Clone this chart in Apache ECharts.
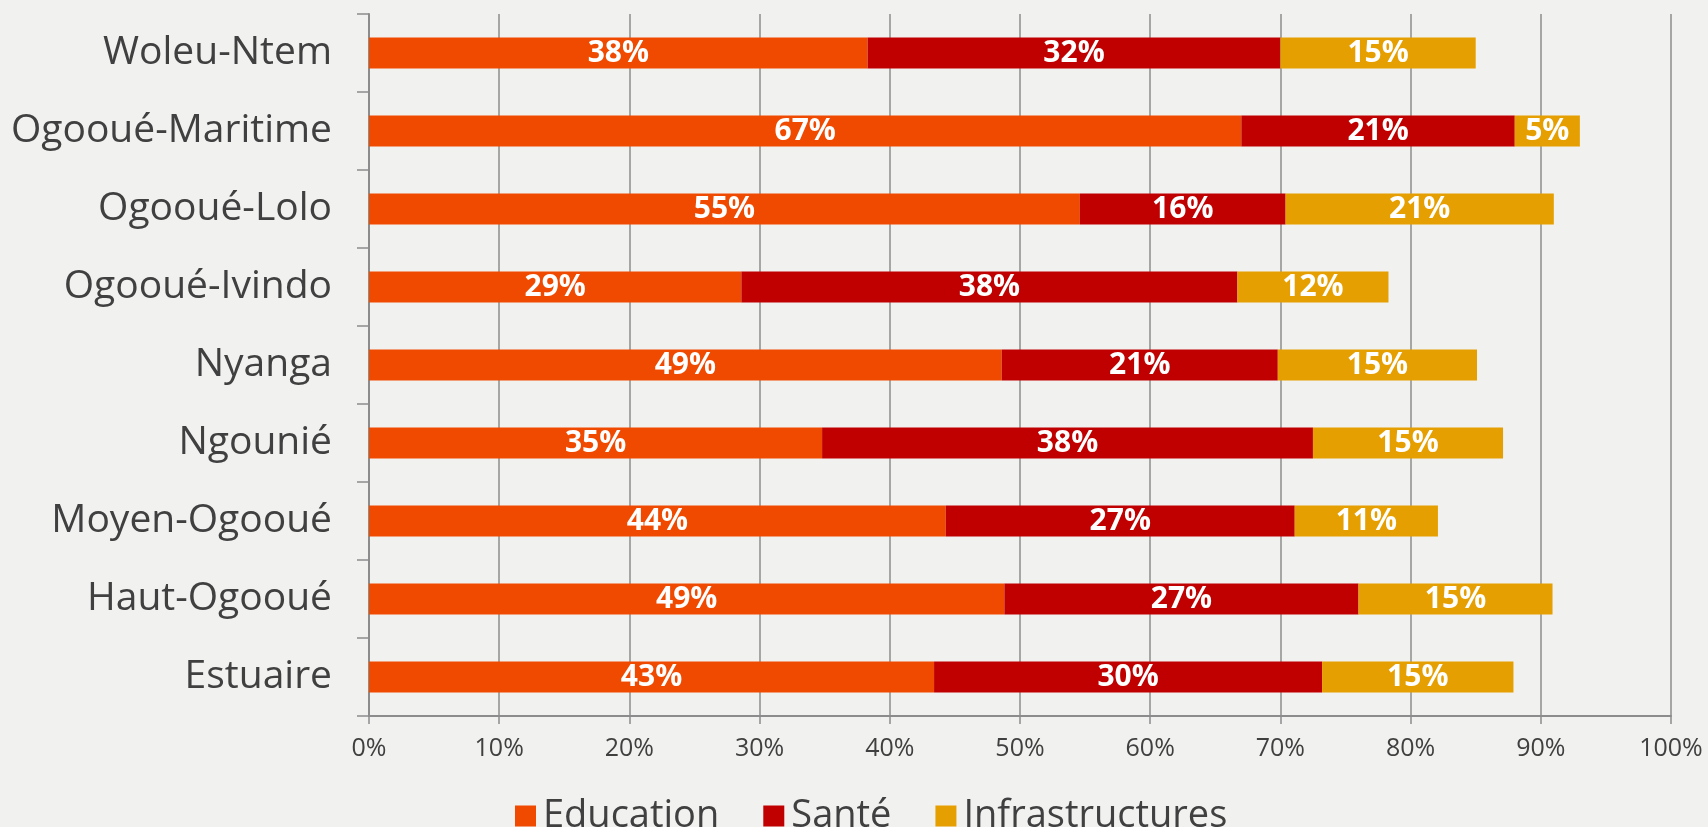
<!DOCTYPE html>
<html>
<head>
<meta charset="utf-8">
<title>Répartition par province</title>
<script src="https://cdn.jsdelivr.net/npm/echarts@6/dist/echarts.min.js"></script>
<style>
  html, body { margin: 0; padding: 0; background: #f1f1f0; }
  #chart { width: 1708px; height: 827px; }
</style>
</head>
<body>
<div id="chart"></div>
<script>
// provinces, de bas en haut
var provinces = ["Estuaire", "Haut-Ogooué", "Moyen-Ogooué", "Ngounié", "Nyanga",
  "Ogooué-Ivindo", "Ogooué-Lolo", "Ogooué-Maritime", "Woleu-Ntem"];
var education = [43.4, 48.8, 44.3, 34.8, 48.6, 28.6, 54.6, 67.0, 38.3];
var sante = [29.8, 27.2, 26.8, 37.7, 21.2, 38.1, 15.8, 21.0, 31.7];
var infrastructures = [14.7, 14.9, 11.0, 14.6, 15.3, 11.6, 20.6, 5.0, 15.0];
var ticks = [0, 10, 20, 30, 40, 50, 60, 70, 80, 90, 100];

var chart = echarts.init(document.getElementById("chart"));

// etiquette blanche dans la barre
var barLabel = {
  show: true,
  position: "inside",
  color: "#fff",
  fontFamily: "Open Sans",
  fontWeight: "bold",
  fontSize: 30,
  formatter: function (p) { return Math.round(p.value) + "%"; }
};

function serie(name, data, color) {
  return {
    name: name,
    type: "bar",
    stack: "total",
    barWidth: 31,
    itemStyle: { color: color },
    label: barLabel,
    data: data
  };
}

var option = {
  backgroundColor: "#f1f1f0",
  animation: false,
  textStyle: { fontFamily: "Open Sans" },
  grid: { left: 369, right: 37, top: 14, bottom: 111 },
  legend: {
    left: 510,
    top: 791,
    itemWidth: 21,
    itemHeight: 21,
    itemGap: 44,
    icon: "rect",
    textStyle: { fontSize: 38, lineHeight: 40, color: "#404040", padding: [0, 0, 0, 2] },
    data: ["Education", "Santé", "Infrastructures"]
  },
  xAxis: {
    type: "value",
    min: ticks[0],
    max: ticks[ticks.length - 1],
    interval: 10,
    axisLine: { show: true, lineStyle: { color: "#8c8c8c", width: 2 } },
    axisTick: { show: true, length: 8, lineStyle: { color: "#8c8c8c", width: 1.5 } },
    splitLine: { show: true, lineStyle: { color: "#8c8c8c", width: 1.5 } },
    axisLabel: {
      margin: 20,
      fontSize: 25,
      color: "#404040",
      formatter: function (v) { return v + "%"; }
    }
  },
  yAxis: {
    type: "category",
    data: provinces,
    axisLine: { show: true, lineStyle: { color: "#8c8c8c", width: 2 } },
    axisTick: { show: true, length: 12, lineStyle: { color: "#8c8c8c", width: 1.5 } },
    axisLabel: { margin: 37, fontSize: 39, color: "#404040" }
  },
  series: [
    serie("Education", education, "#ef4a00"),
    serie("Santé", sante, "#c00000"),
    serie("Infrastructures", infrastructures, "#e69f00")
  ]
};

window.onresize = chart.resize;
chart.setOption(option);
</script>
</body>
</html>
